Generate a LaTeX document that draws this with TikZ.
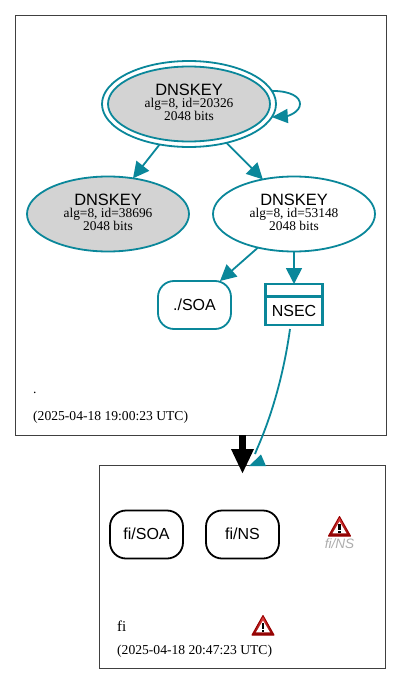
\documentclass[tikz,border=0pt]{standalone}
\usepackage{fontspec}
\setmainfont{Liberation Serif}
\newfontfamily\lblfont{Liberation Sans}
\usetikzlibrary{arrows.meta,shapes.geometric,calc}
\definecolor{dnsteal}{HTML}{0A879A}
\definecolor{keygray}{HTML}{D3D3D3}
\tikzset{
  x=1pt,y=-1pt,
  zonebox/.style={draw=black!75,line width=0.7pt,rectangle,inner sep=0,outer sep=0},
  keyshape/.style={ellipse,draw=dnsteal,line width=1.8pt,minimum width=162pt,minimum height=75pt,inner sep=0,outer sep=0,align=center,font=\fontsize{13.4pt}{13pt}\selectfont},
  outerring/.style={ellipse,draw=dnsteal,line width=1.8pt,minimum width=174pt,minimum height=86pt,inner sep=0,outer sep=0},
  rrbox/.style={rectangle,rounded corners=16pt,line width=1.8pt,minimum width=73pt,minimum height=48pt,inner sep=0,outer sep=0,text height=11.5pt,text depth=1.5pt,font=\lblfont\fontsize{16pt}{18pt}\selectfont},
  flow/.style={draw=dnsteal,line width=1.8pt,-{Triangle[length=16pt,width=16pt]}},
  zonetext/.style={anchor=west,inner sep=0,font=\fontsize{13.6pt}{15pt}\selectfont},
}
\newcommand{\keytext}[1]{{\lblfont\fontsize{16.4pt}{16pt}\selectfont DNSKEY}\\[-0.5pt]alg=8, id=#1\\2048 bits\\[-10pt]\mbox{}}
\newcommand{\warnicon}[3]{%
  \coordinate (#1) at (#2,#3);
  \shade[top color=red!70!white!90!black,bottom color=red!55!black,line join=round,draw=red!60!black,line width=1pt]
    ($(#1)+(0,-10)$) -- ($(#1)+(11,9.5)$) -- ($(#1)+(-11,9.5)$) -- cycle;
  \fill[white] ($(#1)+(0,-5)$) -- ($(#1)+(7,6.8)$) -- ($(#1)+(-7,6.8)$) -- cycle;
  \fill[black] ($(#1)+(-1.1,-2.5)$) rectangle ($(#1)+(1.1,3)$);
  \fill[black] ($(#1)+(-1.1,4)$) rectangle ($(#1)+(1.1,6.2)$);
}
\begin{document}
\begin{tikzpicture}
\useasboundingbox[fill=white] (0,0) rectangle (403,685);
% zones
\node[zonebox,minimum width=371pt,minimum height=420pt] (rootzone) at (201,225.5) {};
\node[zonebox,minimum width=286pt,minimum height=203pt] (fizone) at (242.5,567) {};
% keys
\node[outerring] (kring) at (189,104) {};
\node[keyshape,fill=keygray] (ksk) at (189,104) {\keytext{20326}};
\node[keyshape,fill=keygray] (kleft) at (108,214) {\keytext{38696}};
\node[keyshape] (kright) at (294,214) {\keytext{53148}};
% rr sets
\node[rrbox,draw=dnsteal] (soa) at (194.5,305) {./SOA};
\node[rectangle,draw=dnsteal,line width=2.6pt,minimum width=57pt,minimum height=41pt,inner sep=0,outer sep=0] (nsec) at (294,304.5) {};
\coordinate (nsecdivl) at (265.5,296.5);
\coordinate (nsecdivr) at (322.5,296.5);
\draw[dnsteal,line width=2.6pt] (nsecdivl) -- (nsecdivr);
\node[inner sep=0,font=\lblfont\fontsize{16pt}{18pt}\selectfont] (nsectext) at (294,310.5) {NSEC};
\node[rrbox,draw=black] (fisoa) at (146.5,534.5) {fi/SOA};
\node[rrbox,draw=black] (fins) at (242.5,534.5) {fi/NS};
% texts
\node[zonetext,font=\fontsize{13.6pt}{14pt}\selectfont] (rootname) at (33,393) {.};
\node[zonetext] (roottime) at (33,417) {(2025-04-18 19:00:23 UTC)};
\node[zonetext,font=\fontsize{15pt}{16pt}\selectfont] (finame) at (117,626) {fi};
\node[zonetext] (fitime) at (117,651.5) {(2025-04-18 20:47:23 UTC)};
\node[inner sep=0,text=black!32,font=\lblfont\itshape\fontsize{13.6pt}{15pt}\selectfont] (finslabel) at (339.5,544) {fi/NS};
% warnings
\warnicon{warnone}{339.5}{526.5}
\warnicon{warntwo}{263}{625.5}
% connectors
\draw[flow] (kring.-126) -- (kleft.55);
\draw[flow] (kring.-46) -- (kright.132);
\draw[flow] (kright.-137.5) -- ([xshift=-11pt]soa.north east);
\draw[flow] (kright.south) -- (nsec.north);
\draw[draw=dnsteal,line width=1.8pt,-{Triangle[length=16pt,width=14pt]}] (kring.9) .. controls (291,91) and (300,97) .. (300,104) .. controls (300,112) and (288,116) .. (kring.-9);
\coordinate (nsecout) at (290,329);
\coordinate (fientry) at (257,449);
\coordinate (fitip) at (249,466);
\draw[dnsteal,line width=1.8pt] (nsecout) .. controls (285,365) and (275,408) .. (fientry) -- (255,454);
\fill[dnsteal] (fitip) -- (266,466) -- (261,454.5) -- cycle;
\coordinate (bigend) at (242.5,474);
\draw[black,line width=7pt,-{Triangle[length=25pt,width=21pt]}] (242.5,435) -- (bigend);
\end{tikzpicture}
\end{document}
